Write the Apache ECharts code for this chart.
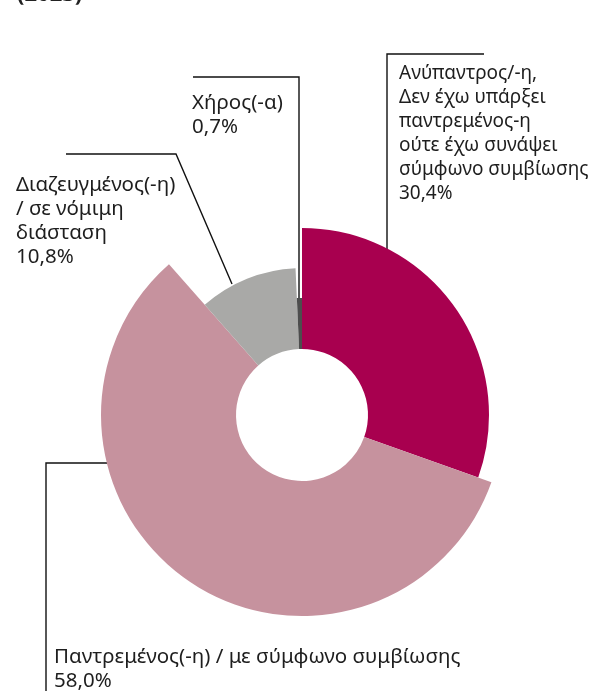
<!DOCTYPE html>
<html>
<head>
<meta charset="utf-8">
<script src="https://cdn.jsdelivr.net/npm/echarts@6/dist/echarts.min.js"></script>
<style>html,body{margin:0;padding:0;background:#fff}#c{width:591px;height:691px}</style>
</head>
<body>
<div id="c"></div>
<script>
const categories = [
  'Ανύπαντρος/-η,\nΔεν έχω υπάρξει\nπαντρεμένος-η\nούτε έχω συνάψει\nσύμφωνο συμβίωσης',
  'Παντρεμένος(-η) / με σύμφωνο συμβίωσης',
  'Διαζευγμένος(-η)\n/ σε νόμιμη\nδιάσταση',
  'Χήρος(-α)'
];
const values = [30.4, 58.0, 10.8, 0.7];
const valueLabels = ['30,4%', '58,0%', '10,8%', '0,7%'];

const colors = ['#a8004f', '#c6929e', '#a9a9a7', '#4d4d4d'];
const outerRadii = [187, 201, 147, 117];
const labelFontSizes = [19, 20.5, 20.5, 20.5];
const CX = 302, CY = 415, INNER = 66;

// label placement (text anchor and leader line points) per slice
const labelPlace = [
  {x: 399, y: 62, line: [[387, 249], [387, 54], [484, 54]]},
  {x: 54, y: 645, line: [[107, 463], [46, 463], [46, 700]]},
  {x: 16, y: 173, line: [[232, 284], [176, 154], [66, 154]]},
  {x: 192, y: 91, line: [[299, 300], [299, 77], [193, 77]]}
];

const series = categories.map((_, si) => ({
  type: 'pie',
  center: [CX, CY],
  radius: [INNER, outerRadii[si]],
  startAngle: 90,
  clockwise: true,
  avoidLabelOverlap: false,
  silent: true,
  animation: false,
  emphasis: {disabled: true},
  z: si === 3 ? 3 : 2,
  data: categories.map((name, i) => ({
    name: name,
    value: values[i],
    itemStyle: {color: i === si ? colors[i] : 'rgba(0,0,0,0)'},
    label: {show: i === si},
    labelLine: {show: i === si}
  })),
  label: {
    position: 'outside',
    formatter: (p) => p.name + '\n' + valueLabels[p.dataIndex],
    fontFamily: 'Noto Sans',
    fontSize: labelFontSizes[si],
    lineHeight: 24,
    color: '#1e1e1e',
    align: 'left'
  },
  labelLine: {
    show: true,
    lineStyle: {color: '#111', width: 1.4}
  },
  labelLayout: (params) => {
    if (params.dataIndex !== si) return {};
    const lp = labelPlace[si];
    return {
      x: lp.x,
      y: lp.y,
      align: 'left',
      verticalAlign: 'top',
      labelLinePoints: lp.line
    };
  }
}));

const chart = echarts.init(document.getElementById('c'), null, {renderer: 'canvas'});
chart.setOption({
  backgroundColor: '#fff',
  animation: false,
  title: {
    text: '(2023)',
    left: 12,
    top: -21,
    textStyle: {fontFamily: 'Noto Sans', fontWeight: 'bold', fontSize: 22, color: '#222'}
  },
  series: series
});
</script>
</body>
</html>
